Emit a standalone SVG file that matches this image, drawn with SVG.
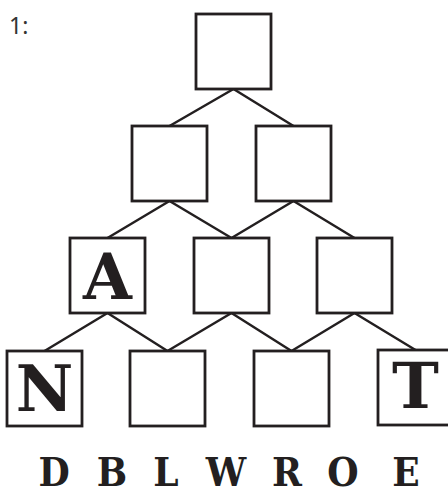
<svg xmlns="http://www.w3.org/2000/svg" width="448" height="494" viewBox="0 0 448 494">
<style>
.box{fill:#fff;stroke:#231f20;stroke-width:2.8}
.ln{stroke:#231f20;stroke-width:2.5;fill:none}
.big{font-family:"DejaVu Serif",serif;font-weight:bold;font-size:63px;fill:#231f20;text-anchor:middle}
.pool{font-family:"DejaVu Serif Condensed","DejaVu Serif",serif;font-stretch:condensed;font-weight:bold;font-size:40px;fill:#231f20;text-anchor:middle}
.num{font-family:"Noto Sans",sans-serif;font-size:23px;fill:#333}
</style>
<rect width="448" height="494" fill="#fff"/>
<text class="num" x="9" y="34">1:</text>
<g id="connectors">
<path class="ln" d="M233.5,89 L169.5,126 M233.5,89 L293.5,126"/>
<path class="ln" d="M169.5,201 L107.5,238 M169.5,201 L231.5,238 M293.5,201 L231.5,238 M293.5,201 L354.5,238"/>
<path class="ln" d="M107.5,313 L44.5,351 M107.5,313 L167.5,351 M231.5,313 L167.5,351 M231.5,313 L291.5,351 M354.5,313 L291.5,351 M354.5,313 L415.5,350"/>
</g>
<g id="n1"><rect class="box" x="196" y="14" width="75" height="75"/></g>
<g id="n2"><rect class="box" x="132" y="126" width="75" height="75"/></g>
<g id="n3"><rect class="box" x="256" y="126" width="75" height="75"/></g>
<g id="n4"><rect class="box" x="70" y="238" width="75" height="75"/><text class="big" x="107.5" y="299">A</text></g>
<g id="n5"><rect class="box" x="194" y="238" width="75" height="75"/></g>
<g id="n6"><rect class="box" x="317" y="238" width="75" height="75"/></g>
<g id="n7"><rect class="box" x="7" y="351" width="75" height="75"/><text class="big" x="44.5" y="411">N</text></g>
<g id="n8"><rect class="box" x="130" y="351" width="75" height="75"/></g>
<g id="n9"><rect class="box" x="254" y="351" width="75" height="75"/></g>
<g id="n10"><rect class="box" x="378" y="350" width="75" height="75"/><text class="big" x="415.5" y="408">T</text></g>
<g id="pool">
<text class="pool" x="54" y="486">D</text>
<text class="pool" x="112" y="486">B</text>
<text class="pool" x="166" y="486">L</text>
<text class="pool" x="226" y="486">W</text>
<text class="pool" x="287" y="486">R</text>
<text class="pool" x="343" y="486">O</text>
<text class="pool" x="406" y="486">E</text>
</g>
</svg>
